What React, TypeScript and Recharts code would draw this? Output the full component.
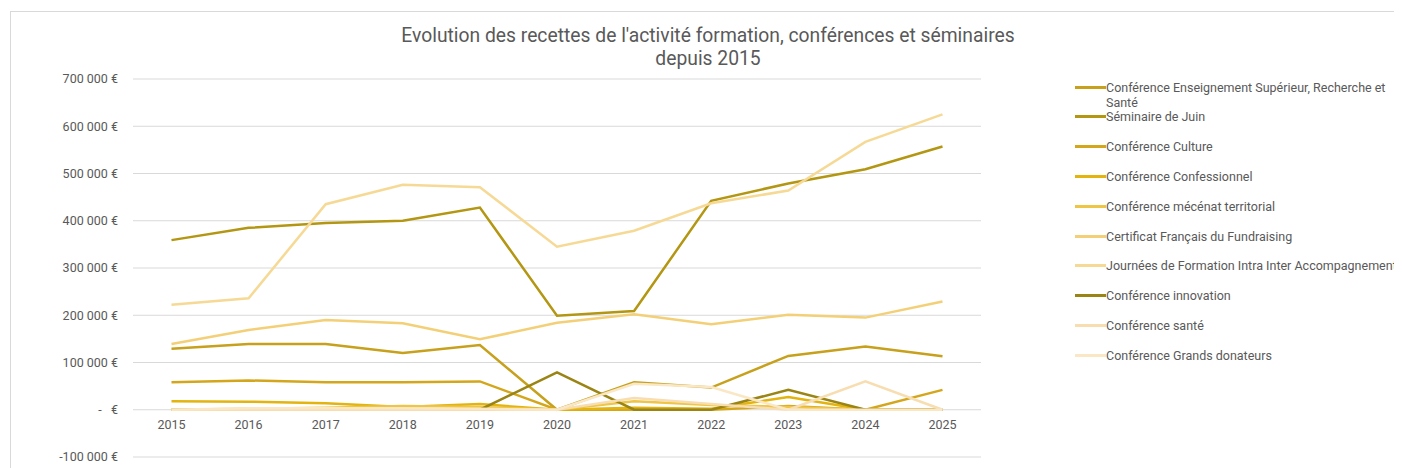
import { LineChart, Line, XAxis, YAxis, CartesianGrid } from 'recharts';

const years = ['2015', '2016', '2017', '2018', '2019', '2020', '2021', '2022', '2023', '2024', '2025'];

// recettes en euros
const ensSup = [129000, 139000, 139000, 120000, 137000, 0, 58000, 47000, 114000, 134000, 113000];
const seminaire = [359000, 385000, 395000, 400000, 428000, 199000, 209000, 442000, 479000, 509000, 557000];
const culture = [58000, 62000, 58000, 58000, 60000, 0, 0, 0, 8000, 0, 42000];
const confessionnel = [18000, 17000, 14000, 6000, 12000, 0, 4000, 2000, 27000, 0, 0];
const mecenat = [0, 2000, 4000, 8000, 6000, 0, 18000, 10000, 6000, 0, 0];
const certificat = [139000, 169000, 190000, 183000, 149000, 184000, 202000, 181000, 201000, 195000, 229000];
const journees = [222000, 236000, 435000, 476000, 471000, 345000, 379000, 437000, 464000, 567000, 625000];
const innovation = [0, 0, 0, 0, 0, 79000, 0, 0, 42000, 0, 0];
const sante = [0, 0, 0, 0, 0, 0, 25000, 12000, 0, 60000, 0];
const grands = [0, 3000, 3000, 3000, 2000, 0, 55000, 48000, 0, 0, 0];

const yTicks = [-100000, 0, 100000, 200000, 300000, 400000, 500000, 600000, 700000];

const series = [
  { key: 'ensSup', name: 'Conférence Enseignement Supérieur, Recherche et Santé', values: ensSup, color: '#C7A01C' },
  { key: 'seminaire', name: 'Séminaire de Juin', values: seminaire, color: '#B39612' },
  { key: 'culture', name: 'Conférence Culture', values: culture, color: '#D4A61C' },
  { key: 'confessionnel', name: 'Conférence Confessionnel', values: confessionnel, color: '#E3B30E' },
  { key: 'mecenat', name: 'Conférence mécénat territorial', values: mecenat, color: '#EEC545' },
  { key: 'certificat', name: 'Certificat Français du Fundraising', values: certificat, color: '#F3D077' },
  { key: 'journees', name: 'Journées de Formation Intra Inter Accompagnement', values: journees, color: '#F6D995' },
  { key: 'innovation', name: 'Conférence innovation', values: innovation, color: '#9A8414' },
  { key: 'sante', name: 'Conférence santé', values: sante, color: '#F7DDB0' },
  { key: 'grands', name: 'Conférence Grands donateurs', values: grands, color: '#FAE7C5' },
];

const data = years.map((y, i) => {
  const row: Record<string, string | number> = { year: y };
  series.forEach(s => { row[s.key] = s.values[i]; });
  return row;
});

const W = 1394;
const H = 461;
const TOP = 71;
const PLOT_H = 378;
const Y_MIN = -100000;
const Y_MAX = 700000;
const zeroY = TOP + PLOT_H * (Y_MAX / (Y_MAX - Y_MIN));

const font = 'Roboto, "Open Sans", sans-serif';
const grey = '#595959';

// format comptable : "-   €" pour zéro
const fmt = (v: number) => {
  if (v === 0) return '-\u00A0\u00A0\u00A0€';
  const s = Math.abs(v).toString().replace(/\B(?=(\d{3})+(?!\d))/g, '\u00A0');
  return (v < 0 ? '-' : '') + s + '\u00A0€';
};

const YearTick = (props: any) => {
  const { x, payload } = props;
  return (
    <text x={x} y={zeroY + 15} dy="0.35em" textAnchor="middle" fill={grey} fontSize={12.5} fontFamily={font}>
      {payload.value}
    </text>
  );
};

export default function App() {
  return (
    <div style={{ position: 'relative', width: W, height: 460, overflow: 'hidden', background: '#fff' }}>
      <div style={{ position: 'absolute', left: 2, top: 3, width: 1500, height: 600, border: '1px solid #D9D9D9' }} />
      <div
        style={{
          position: 'absolute', left: 300, top: 16, width: 800, textAlign: 'center',
          fontFamily: font, fontSize: 19.3, lineHeight: '23px', color: grey,
        }}
      >
        Evolution des recettes de l'activité formation, conférences et séminaires
        <br />
        depuis 2015
      </div>
      <div style={{ position: 'absolute', left: 0, top: 0 }}>
        <LineChart width={W} height={H} data={data} margin={{ top: TOP, right: W - 973, bottom: 0, left: 0 }}>
          <CartesianGrid vertical={false} stroke="#D9D9D9" />
          <XAxis
            dataKey="year"
            height={12}
            axisLine={false}
            tickLine={false}
            padding={{ left: 38.5, right: 38.5 }}
            tick={<YearTick />}
            interval={0}
          />
          <YAxis
            width={125}
            domain={[Y_MIN, Y_MAX]}
            ticks={yTicks}
            axisLine={false}
            tickLine={false}
            tickMargin={9}
            tickFormatter={fmt}
            tick={{ fill: grey, fontSize: 12.5, fontFamily: font }}
          />
          {series.map(s => (
            <Line
              key={s.key}
              dataKey={s.key}
              name={s.name}
              stroke={s.color}
              strokeWidth={2.5}
              dot={false}
              type="linear"
              isAnimationActive={false}
            />
          ))}
        </LineChart>
      </div>
      {series.map((s, i) => (
        <div
          key={s.key}
          style={{
            position: 'absolute', left: 1067, top: 79 + i * 29.8 - 7.5, width: 400,
            display: 'flex', alignItems: 'flex-start',
          }}
        >
          <div style={{ width: 31, height: 3, marginTop: 6, background: s.color, flex: 'none' }} />
          <div
            style={{
              width: 300, fontFamily: font, fontSize: 12.5, lineHeight: '15px', color: grey,
              whiteSpace: i === 0 ? 'normal' : 'nowrap',
            }}
          >
            {s.name}
          </div>
        </div>
      ))}
    </div>
  );
}
